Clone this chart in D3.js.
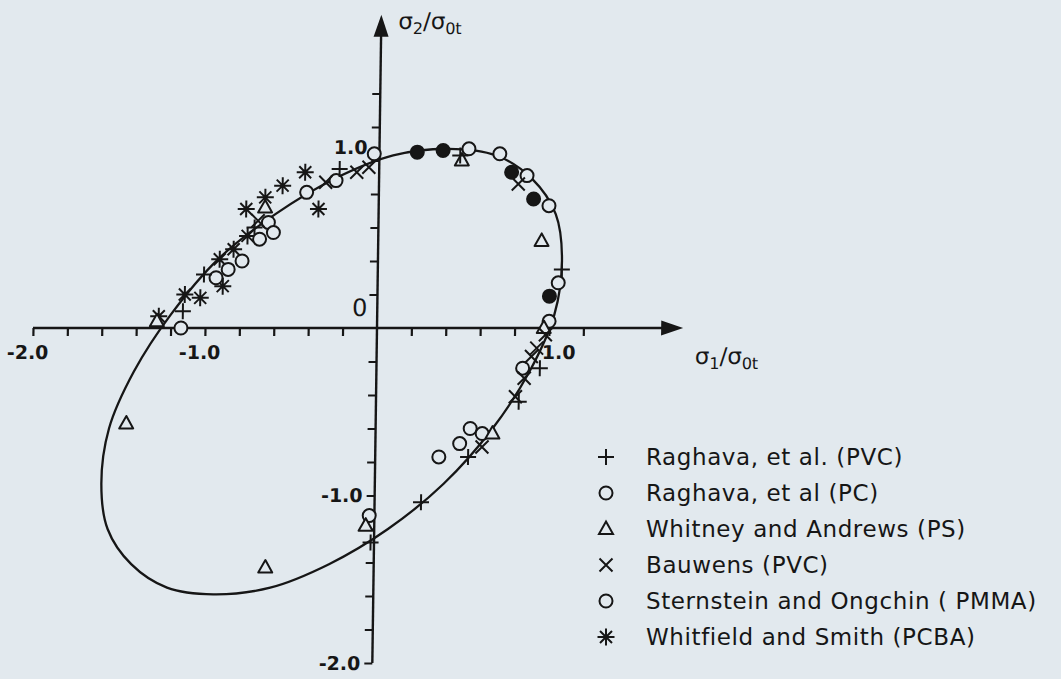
<!DOCTYPE html>
<html>
<head>
<meta charset="utf-8">
<script src="https://cdn.jsdelivr.net/npm/d3@7"></script>
<style>
  html, body { margin: 0; padding: 0; background: #e2e9ee; }
  svg { display: block; }
</style>
</head>
<body>
<svg id="chart" width="1061" height="679"></svg>
<script>
// Yield locus (solid curve), points taken round the loop in (σ1/σ0t, σ2/σ0t)
const locus = [
  [0.89, 0.89], [0.68, 1.03], [0.40, 1.07], [0.08, 1.03], [-0.26, 0.89],
  [-0.60, 0.68], [-0.93, 0.41], [-1.20, 0.08], [-1.41, -0.26], [-1.55, -0.60],
  [-1.59, -0.93], [-1.55, -1.20], [-1.41, -1.41], [-1.20, -1.55], [-0.93, -1.59],
  [-0.60, -1.55], [-0.26, -1.41], [0.08, -1.20], [0.40, -0.93], [0.68, -0.60],
  [0.89, -0.26], [1.03, 0.08], [1.07, 0.40], [1.03, 0.68]
];

// Experimental yield points, one array per material / source
const raghavaPVC = [
  [1.07, 0.35], [0.47, 1.03], [-0.23, 0.95], [-0.72, 0.60], [-1.01, 0.32],
  [-1.13, 0.10], [-0.02, -1.28], [0.27, -1.04], [0.54, -0.77], [0.83, -0.44],
  [0.95, -0.24]
];
const raghavaPC = [
  [0.22, 1.05], [0.37, 1.06], [0.77, 0.93], [0.90, 0.77], [1.00, 0.19]
];
const whitneyPS = [
  [0.48, 1.00], [0.95, 0.52], [0.97, 0.00], [-0.66, 0.72], [-1.28, 0.04],
  [-1.45, -0.57], [-0.63, -1.43], [-0.05, -1.18], [0.68, -0.63]
];
const bauwensPVC = [
  [0.81, 0.86], [-0.13, 0.93], [-0.06, 0.96], [-0.31, 0.87], [-0.70, 0.64],
  [0.98, -0.04], [0.93, -0.12], [0.90, -0.17], [0.86, -0.30], [0.81, -0.41],
  [0.62, -0.71]
];
const sternsteinPMMA = [
  [-0.03, 1.04], [0.52, 1.07], [0.70, 1.04], [0.86, 0.91], [0.99, 0.73],
  [1.05, 0.27], [1.00, 0.04], [-0.25, 0.88], [-0.42, 0.81], [-0.64, 0.63],
  [-0.61, 0.57], [-0.69, 0.53], [-0.79, 0.40], [-0.87, 0.35], [-0.94, 0.30],
  [-1.14, 0.00], [-0.03, -1.12], [0.85, -0.24], [0.55, -0.60], [0.62, -0.63],
  [0.49, -0.69], [0.37, -0.77]
];
const whitfieldPCBA = [
  [-0.43, 0.93], [-0.56, 0.85], [-0.35, 0.71], [-0.66, 0.78], [-0.77, 0.71],
  [-0.76, 0.55], [-0.84, 0.47], [-0.92, 0.41], [-0.90, 0.25], [-1.12, 0.20],
  [-1.03, 0.18], [-1.27, 0.07]
];

const legendLabels = [
  "Raghava, et al. (PVC)",
  "Raghava, et al (PC)",
  "Whitney and Andrews (PS)",
  "Bauwens (PVC)",
  "Sternstein and Ongchin ( PMMA)",
  "Whitfield and Smith (PCBA)"
];
const legendSymbols = ["plus", "circle", "triangle", "cross", "circle", "star"];

const xTickValues = d3.range(-20, 13, 2).map(d => d / 10).filter(d => d !== 0);
const yTickValues = d3.range(-20, 15, 2).map(d => d / 10).filter(d => d !== 0);
const xLabelValues = [-2.0, -1.0, 1.0];
const yLabelValues = [1.0, -1.0, -2.0];

// ---------------------------------------------------------------
const ink = "#161616";
const paper = "#e2e9ee";
const svg = d3.select("#chart");

const ox = 377, oy = 328;
const x = d3.scaleLinear().domain([0, 1]).range([ox, ox + 172]);
const y = d3.scaleLinear().domain([0, 1]).range([oy, oy - 167.5]);

// the whole plot sits on a very slightly slanted frame
const plot = svg.append("g")
  .attr("transform", `translate(${ox},${oy}) skewX(-0.8) translate(${-ox},${-oy})`);

// axes -------------------------------------------------------------
const xAxis = d3.axisBottom(x).tickValues(xTickValues).tickSize(8).tickSizeOuter(0).tickFormat("");
const yAxis = d3.axisLeft(y).tickValues(yTickValues).tickSize(8).tickSizeOuter(0).tickFormat("");

const gx = plot.append("g").attr("transform", `translate(0,${oy})`).call(xAxis);
const gy = plot.append("g").attr("transform", `translate(${ox},0)`).call(yAxis);
[gx, gy].forEach(g => {
  g.select(".domain").remove();
  g.selectAll(".tick line").attr("stroke", ink).attr("stroke-width", 2.2);
});

const xEnd = 1.78, yEnd = 1.87;
plot.append("line")
  .attr("x1", x(-2.0)).attr("x2", x(xEnd) - 18)
  .attr("y1", oy).attr("y2", oy)
  .attr("stroke", ink).attr("stroke-width", 2.4);
plot.append("path")
  .attr("d", `M${x(xEnd)},${oy} L${x(xEnd) - 22},${oy - 7.5} L${x(xEnd) - 22},${oy + 7.5} Z`)
  .attr("fill", ink);
plot.append("line")
  .attr("x1", ox).attr("x2", ox)
  .attr("y1", y(-2.0)).attr("y2", y(yEnd) + 18)
  .attr("stroke", ink).attr("stroke-width", 2.4);
plot.append("path")
  .attr("d", `M${ox},${y(yEnd)} L${ox - 7.5},${y(yEnd) + 22} L${ox + 7.5},${y(yEnd) + 22} Z`)
  .attr("fill", ink);

const numFont = "'DejaVu Sans', sans-serif";
const fmt = d => (d < 0 ? "-" : "") + Math.abs(d).toFixed(1);

plot.selectAll("text.xl").data(xLabelValues).join("text")
  .attr("class", "xl")
  .attr("x", d => x(d) - (d < 0 ? 5 : -10))
  .attr("y", oy + 31)
  .attr("text-anchor", "middle")
  .attr("font-family", numFont).attr("font-size", 19).attr("font-weight", "bold")
  .attr("fill", ink)
  .text(fmt);

plot.selectAll("text.yl").data(yLabelValues).join("text")
  .attr("class", "yl")
  .attr("x", ox - 12)
  .attr("y", d => y(d) + (d > 0 ? -6 : 7))
  .attr("text-anchor", "end")
  .attr("font-family", numFont).attr("font-size", 19).attr("font-weight", "bold")
  .attr("fill", ink)
  .text(fmt);

plot.append("text")
  .attr("x", ox - 10).attr("y", oy - 12)
  .attr("text-anchor", "end")
  .attr("font-family", numFont).attr("font-size", 24)
  .attr("fill", ink)
  .text("0");

// axis titles with subscripts
function axisTitle(g, px, py, sub) {
  const t = g.append("text")
    .attr("x", px).attr("y", py)
    .attr("font-family", numFont).attr("font-size", 23)
    .attr("fill", ink);
  t.append("tspan").text("σ");
  t.append("tspan").attr("font-size", 16).attr("dy", 5).text(sub);
  t.append("tspan").attr("dy", -5).text("/σ");
  t.append("tspan").attr("font-size", 16).attr("dy", 5).text("0t");
}
axisTitle(plot, ox + 17, 29, "2");
axisTitle(plot, x(xEnd) + 12, oy + 36, "1");

// yield locus
const line = d3.line().x(d => x(d[0])).y(d => y(d[1])).curve(d3.curveCatmullRomClosed.alpha(0.5));
plot.append("path")
  .attr("d", line(locus))
  .attr("fill", "none").attr("stroke", ink).attr("stroke-width", 2.3);

// markers ---------------------------------------------------------
const shapes = {
  plus: "M-8,0H8M0,-8V8",
  cross: "M-6.5,-6.5L6.5,6.5M-6.5,6.5L6.5,-6.5",
  triangle: "M0,-7.5L7,5L-7,5Z",
  star: "M-8.5,0H8.5M0,-8.5V8.5M-6,-6L6,6M-6,6L6,-6"
};

function drawMarks(g, data, kind) {
  const sel = g.append("g");
  if (kind === "circle" || kind === "dot") {
    sel.selectAll("circle").data(data).join("circle")
      .attr("cx", d => x(d[0])).attr("cy", d => y(d[1]))
      .attr("r", 6.5)
      .attr("fill", kind === "dot" ? ink : paper)
      .attr("stroke", ink).attr("stroke-width", 2);
  } else {
    sel.selectAll("path").data(data).join("path")
      .attr("transform", d => `translate(${x(d[0])},${y(d[1])})`)
      .attr("d", shapes[kind])
      .attr("fill", kind === "triangle" ? paper : "none")
      .attr("stroke", ink).attr("stroke-width", 2)
      .attr("stroke-linejoin", "round");
  }
}

drawMarks(plot, whitfieldPCBA, "star");
drawMarks(plot, sternsteinPMMA, "circle");
drawMarks(plot, whitneyPS, "triangle");
drawMarks(plot, bauwensPVC, "cross");
drawMarks(plot, raghavaPVC, "plus");
drawMarks(plot, raghavaPC, "dot");

// legend ----------------------------------------------------------
const legend = svg.append("g").attr("transform", "translate(606,457)");
const rowH = 36;
legendSymbols.forEach((s, i) => {
  const gy0 = i * rowH;
  if (s === "circle") {
    legend.append("circle").attr("cx", 0).attr("cy", gy0).attr("r", 6.5)
      .attr("fill", "none").attr("stroke", ink).attr("stroke-width", 2);
  } else {
    legend.append("path").attr("transform", `translate(0,${gy0})`).attr("d", shapes[s])
      .attr("fill", "none").attr("stroke", ink).attr("stroke-width", 2);
  }
  legend.append("text")
    .attr("x", 40).attr("y", gy0 + 8)
    .attr("font-family", numFont).attr("font-size", 23)
    .attr("letter-spacing", 0.6)
    .attr("fill", ink)
    .text(legendLabels[i]);
});
</script>
</body>
</html>
